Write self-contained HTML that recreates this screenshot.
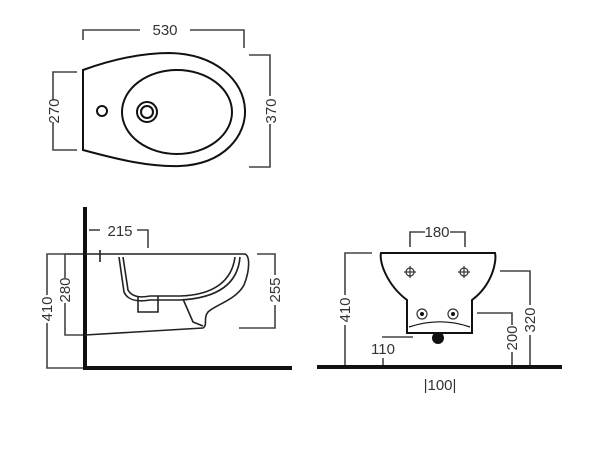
<!DOCTYPE html>
<html><head><style>
html,body{margin:0;padding:0;background:#fff;}
svg{display:block;}
text{font-family:"Liberation Sans",sans-serif;font-size:15px;fill:#333;}
</style></head><body>
<svg width="600" height="451" viewBox="0 0 600 451">
<g fill="none" stroke="#444" stroke-width="1.6">
<!-- top view dims -->
<polyline points="83,40 83,30 140,30"/><polyline points="190,30 244,30 244,48"/>
<polyline points="77,72 53,72 53,100"/><polyline points="53,122 53,150 77,150"/>
<polyline points="249,55 270,55 270,96"/><polyline points="270,124 270,167 249,167"/>
</g>
<g fill="none" stroke="#111" stroke-width="2">
<path d="M83,70 L83,150 C120,160 150,167 180,166 C225,164 246,135 245,110 C244,80 215,54 170,53 C135,53 105,62 83,70 Z"/>
<ellipse cx="177" cy="112" rx="55" ry="42"/>
<circle cx="147" cy="112" r="10"/><circle cx="147" cy="112" r="6"/>
<circle cx="102" cy="111" r="5"/>
</g>
<text x="165" y="35" text-anchor="middle">530</text>
<text transform="translate(59,111) rotate(-90)" text-anchor="middle">270</text>
<text transform="translate(276,111) rotate(-90)" text-anchor="middle">370</text>

<!-- side view -->
<g fill="none" stroke="#444" stroke-width="1.6">
<polyline points="89,230 100,230"/><polyline points="137,230 148,230 148,248"/>
<polyline points="85,254 65,254 65,278"/><polyline points="65,303 65,335 85,335"/>
<polyline points="85,254 47,254 47,295"/><polyline points="47,323 47,368 85,368"/>
<polyline points="257,254 275,254 275,275"/><polyline points="275,305 275,328 239,328"/>
</g>
<line x1="85" y1="207" x2="85" y2="370" stroke="#111" stroke-width="4"/>
<line x1="83" y1="368" x2="292" y2="368" stroke="#111" stroke-width="4"/>
<g fill="none" stroke="#222" stroke-width="1.6">
<path d="M85,254 L245,254 C250,256 250,270 244,285 C236,300 215,305 208,312 C203,318 208,325 203,328 L85,335"/>
<path d="M123,257 L128,290 C132,297 140,298 150,296 L180,296 C215,295 232,280 235,257"/>
<path d="M119,257 L124,292 C128,301 138,302 150,300 L180,300 C220,298 238,282 240,257"/>
<path d="M138,296 L138,312 L158,312 L158,296"/>
<path d="M183,299 L193,322 L203,326"/>
<path d="M100,250 L100,262"/>
</g>
<text x="120" y="236" text-anchor="middle">215</text>
<text transform="translate(70,290) rotate(-90)" text-anchor="middle">280</text>
<text transform="translate(52,309) rotate(-90)" text-anchor="middle">410</text>
<text transform="translate(280,290) rotate(-90)" text-anchor="middle">255</text>

<!-- front view -->
<g fill="none" stroke="#444" stroke-width="1.6">
<polyline points="410,247 410,232 425,232"/><polyline points="450,232 465,232 465,247"/>
<polyline points="372,253 345,253 345,295"/><polyline points="345,325 345,367"/>
<polyline points="500,271 530,271 530,305"/><polyline points="530,335 530,367"/>
<polyline points="477,313 512,313 512,325"/><polyline points="512,352 512,367"/>
<polyline points="413,337 382,337"/><polyline points="383,358 383,367"/>
</g>
<line x1="317" y1="367" x2="562" y2="367" stroke="#111" stroke-width="4"/>
<g fill="none" stroke="#111" stroke-width="2">
<path d="M381,253 L495,253 C497,262 492,285 472,300 L472,333 L407,333 L407,300 C387,285 379,262 381,253 Z"/>
<path d="M409,327 C430,320 450,320 470,327" stroke-width="1.2"/>
</g>
<g fill="none" stroke="#333" stroke-width="1.2">
<circle cx="410" cy="272" r="4"/><line x1="404" y1="272" x2="416" y2="272"/><line x1="410" y1="266" x2="410" y2="278"/>
<circle cx="464" cy="272" r="4"/><line x1="458" y1="272" x2="470" y2="272"/><line x1="464" y1="266" x2="464" y2="278"/>
<circle cx="422" cy="314" r="5"/><circle cx="453" cy="314" r="5"/>
</g>
<circle cx="422" cy="314" r="2" fill="#111"/><circle cx="453" cy="314" r="2" fill="#111"/>
<ellipse cx="438" cy="338" rx="6" ry="6" fill="#111"/>
<text x="437" y="237" text-anchor="middle">180</text>
<text transform="translate(350,310) rotate(-90)" text-anchor="middle">410</text>
<text transform="translate(535,320) rotate(-90)" text-anchor="middle">320</text>
<text transform="translate(517,338) rotate(-90)" text-anchor="middle">200</text>
<text x="383" y="354" text-anchor="middle">110</text>
<text x="440" y="390" text-anchor="middle">|100|</text>
</svg>
</body></html>
